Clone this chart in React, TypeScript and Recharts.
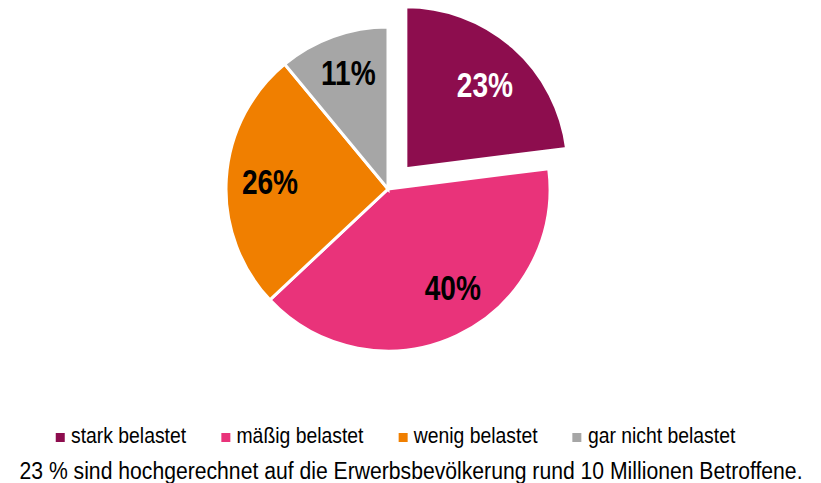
import { Legend, Pie, PieChart, Sector } from "recharts";

const categories = ["stark belastet", "mäßig belastet", "wenig belastet", "gar nicht belastet"];
const shares = [23, 40, 26, 11];
const colors = ["#8D0D4E", "#E9337A", "#F07F00", "#A6A6A6"];
const labelColors = ["#ffffff", "#000000", "#000000", "#000000"];
const caption = "23 % sind hochgerechnet auf die Erwerbsbevölkerung rund 10 Millionen Betroffene.";

const data = categories.map((name, i) => ({ name, value: shares[i], fill: colors[i] }));

const FONT = '"Liberation Sans", Arial, sans-serif';
const RAD = Math.PI / 180;
const EXPLODE = 27;
// small angular nudges so labels sit where the original placed them
const labelNudge = [-2, 8, 0, -1];

function offsetFor(index: number, midAngle: number) {
  if (index !== 0) return { dx: 0, dy: 0 };
  return { dx: Math.cos(-midAngle * RAD) * EXPLODE, dy: Math.sin(-midAngle * RAD) * EXPLODE };
}

function SliceShape(props: any) {
  const { dx, dy } = offsetFor(props.index, props.midAngle);
  return (
    <Sector
      cx={props.cx + dx}
      cy={props.cy + dy}
      innerRadius={props.innerRadius}
      outerRadius={props.outerRadius}
      startAngle={props.startAngle}
      endAngle={props.endAngle}
      fill={props.fill}
      stroke="#ffffff"
      strokeWidth={3}
    />
  );
}

function renderLabel(props: any) {
  const { cx, cy, midAngle, outerRadius, index } = props;
  const { dx, dy } = offsetFor(index, midAngle);
  const r = outerRadius * (index === 0 ? 0.71 : index === 3 ? 0.76 : 0.73);
  const a = (midAngle + labelNudge[index]) * RAD;
  const x = cx + dx + r * Math.cos(-a);
  const y = cy + dy + r * Math.sin(-a);
  return (
    <text
      transform={`translate(${x},${y}) scale(0.78,1)`}
      x={0}
      y={0}
      fill={labelColors[index]}
      textAnchor="middle"
      dominantBaseline="central"
      style={{ fontFamily: FONT, fontSize: 36, fontWeight: 700 }}
    >
      {`${shares[index]}%`}
    </text>
  );
}

function LegendBlock() {
  return (
    <div style={{ fontFamily: FONT, color: "#000", lineHeight: 1.15 }}>
      <div
        style={{
          display: "flex",
          justifyContent: "center",
          gap: 39,
          fontSize: 21.5,
          transform: "translateX(-15px) scaleX(0.9)",
          transformOrigin: "center",
        }}
      >
        {categories.map((c, i) => (
          <div key={c} style={{ display: "flex", alignItems: "center" }}>
            <span style={{ width: 10, height: 9, background: colors[i], display: "inline-block", marginRight: 7, marginTop: 2 }} />
            <span>{c}</span>
          </div>
        ))}
      </div>
      <div
        style={{
          width: 900,
          marginLeft: -47,
          textAlign: "center",
          fontSize: 23,
          marginTop: 9,
          whiteSpace: "nowrap",
          transform: "scaleX(0.92)",
          transformOrigin: "center",
        }}
      >
        {caption}
      </div>
    </div>
  );
}

export default function App() {
  return (
    <PieChart width={805} height={475} margin={{ top: 0, right: 0, bottom: 0, left: 0 }}>
      <Pie
        data={data}
        dataKey="value"
        nameKey="name"
        cx={380}
        cy={181}
        outerRadius={162}
        startAngle={90}
        endAngle={-270}
        stroke="#ffffff"
        strokeWidth={3}
        shape={SliceShape}
        label={renderLabel}
        labelLine={false}
        isAnimationActive={false}
      />
      <Legend content={<LegendBlock />} wrapperStyle={{ top: 416, left: 0, width: 805 }} />
    </PieChart>
  );
}
